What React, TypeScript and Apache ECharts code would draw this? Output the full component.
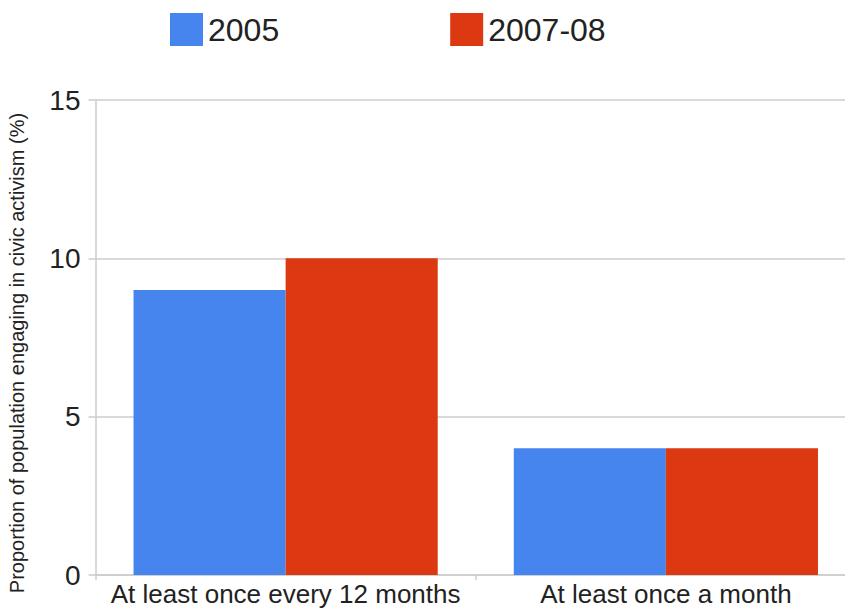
import React, { useEffect, useRef } from "react";
import * as echarts from "echarts";

// Civic activism survey: share of population engaging, by frequency
const categories = ["At least once every 12 months", "At least once a month"];
const seriesNames = ["2005", "2007-08"];
const values2005 = [9, 4];
const values200708 = [10, 4];
const yTicks = { min: 0, max: 15, interval: 5 };
const yAxisTitle = "Proportion of population engaging in civic activism (%)";

const BLUE = "#4684EE";
const RED = "#DC3912";
const GRID_GRAY = "#cccccc";
const TEXT = "#222222";
const FONT = "'Liberation Sans', Arial, sans-serif";

// The plot runs a little past the right edge of the visible page.
const CANVAS_W = 856;
const CANVAS_H = 610;

export default function App() {
  const ref = useRef<HTMLDivElement>(null);

  useEffect(() => {
    document.body.style.margin = "0";
    document.body.style.overflow = "hidden";
    if (!ref.current) return;
    const chart = echarts.init(ref.current, undefined, { renderer: "svg" });
    chart.setOption({
      animation: false,
      backgroundColor: "#ffffff",
      textStyle: { fontFamily: FONT },
      legend: {
        data: seriesNames,
        left: 165,
        top: 8,
        icon: "rect",
        itemWidth: 33,
        itemHeight: 33,
        itemGap: 171,
        textStyle: { fontSize: 32, color: TEXT, fontFamily: FONT },
      },
      grid: { left: 95.5, top: 100, bottom: 35, right: 0 },
      xAxis: {
        type: "category",
        data: categories,
        axisLine: { show: true, lineStyle: { color: GRID_GRAY, width: 1.5 } },
        axisTick: { show: true, length: 5, lineStyle: { color: GRID_GRAY, width: 1.5 } },
        axisLabel: { fontSize: 26, color: TEXT, margin: 6, fontFamily: FONT, interval: 0 },
      },
      yAxis: {
        type: "value",
        min: yTicks.min,
        max: yTicks.max,
        interval: yTicks.interval,
        axisLine: { show: true, lineStyle: { color: GRID_GRAY, width: 1.5 } },
        axisTick: { show: true, length: 7, lineStyle: { color: GRID_GRAY, width: 1.5 } },
        splitLine: { show: true, lineStyle: { color: GRID_GRAY, width: 1.5 } },
        axisLabel: { fontSize: 28, color: TEXT, margin: 15, fontFamily: FONT },
      },
      graphic: [
        {
          type: "text",
          x: 17,
          y: 353,
          rotation: Math.PI / 2,
          style: {
            text: yAxisTitle,
            fontSize: 20,
            fontFamily: FONT,
            fill: TEXT,
            align: "center",
            verticalAlign: "middle",
          },
        },
      ],
      series: [
        {
          name: seriesNames[0],
          type: "bar",
          data: values2005,
          itemStyle: { color: BLUE },
          barGap: "0%",
          barCategoryGap: "20%",
        },
        {
          name: seriesNames[1],
          type: "bar",
          data: values200708,
          itemStyle: { color: RED },
          barGap: "0%",
          barCategoryGap: "20%",
        },
      ],
    });
    return () => chart.dispose();
  }, []);

  return <div ref={ref} style={{ width: CANVAS_W, height: CANVAS_H }} />;
}
